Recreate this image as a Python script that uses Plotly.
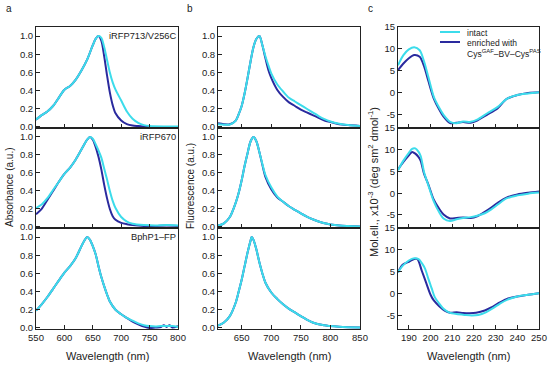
import plotly.graph_objects as go

W, H = 550, 365
CYAN = "#3CDCEB"
NAVY = "#2A2A9E"
FONT = "Arial, Liberation Sans, sans-serif"

# ---------------- data ----------------
# panel a: absorbance
A1_WL = [550, 560, 570, 580, 590, 600, 610, 620, 630, 640, 650, 655, 660, 665, 670, 675, 680, 685, 690, 700, 710, 720, 730, 740, 750, 775, 800]
A1_NAVY = [0.08, 0.13, 0.17, 0.23, 0.32, 0.41, 0.45, 0.52, 0.62, 0.74, 0.90, 0.97, 1.00, 0.95, 0.78, 0.57, 0.38, 0.24, 0.15, 0.07, 0.03, 0.015, 0.01, 0.005, 0.0, 0.0, 0.0]
A1_CYAN = [0.08, 0.13, 0.17, 0.23, 0.32, 0.41, 0.45, 0.52, 0.62, 0.74, 0.90, 0.97, 1.00, 0.98, 0.88, 0.74, 0.60, 0.49, 0.41, 0.29, 0.17, 0.09, 0.045, 0.02, 0.01, 0.005, 0.005]

A2_WL = [550, 560, 570, 580, 590, 600, 610, 620, 630, 640, 645, 650, 655, 660, 665, 670, 675, 680, 685, 690, 700, 710, 720, 740, 760, 780, 800]
A2_NAVY = [0.14, 0.20, 0.30, 0.40, 0.50, 0.59, 0.66, 0.75, 0.86, 0.97, 1.00, 0.97, 0.89, 0.78, 0.64, 0.47, 0.32, 0.20, 0.12, 0.08, 0.045, 0.03, 0.02, 0.01, 0.01, 0.015, 0.01]
A2_CYAN = [0.21, 0.25, 0.32, 0.41, 0.50, 0.59, 0.66, 0.75, 0.86, 0.97, 1.00, 0.98, 0.92, 0.85, 0.77, 0.65, 0.53, 0.40, 0.29, 0.21, 0.11, 0.06, 0.035, 0.02, 0.015, 0.02, 0.015]

A3_WL = [550, 560, 570, 580, 590, 600, 610, 620, 630, 635, 640, 645, 650, 655, 660, 665, 670, 675, 680, 690, 700, 710, 720, 730, 740, 750, 760, 770, 780, 790, 800]
A3_CYAN = [0.19, 0.26, 0.34, 0.43, 0.52, 0.61, 0.68, 0.77, 0.90, 0.96, 1.00, 0.97, 0.90, 0.81, 0.68, 0.56, 0.46, 0.37, 0.29, 0.20, 0.15, 0.11, 0.08, 0.05, 0.03, 0.02, 0.015, 0.02, 0.02, 0.02, 0.01]
A3_NAVY_WL = [550, 560, 570, 580, 590, 600, 610, 620, 630, 635, 640, 645, 650, 655, 660, 665, 670, 675, 680, 690, 700, 710, 720, 730, 740, 750, 760, 770, 775, 780, 785, 790, 800]
A3_NAVY = [0.19, 0.26, 0.34, 0.43, 0.52, 0.61, 0.68, 0.77, 0.90, 0.96, 1.00, 0.97, 0.90, 0.81, 0.68, 0.56, 0.46, 0.37, 0.29, 0.20, 0.15, 0.11, 0.07, 0.04, 0.015, 0.0, 0.005, 0.01, 0.03, 0.01, 0.03, 0.005, 0.02]

# panel b: fluorescence
B1_WL = [610, 620, 630, 640, 645, 650, 655, 660, 665, 670, 675, 680, 685, 690, 695, 700, 710, 720, 730, 740, 750, 760, 770, 780, 790, 800, 815, 830, 850]
B1_NAVY = [0.04, 0.03, 0.03, 0.07, 0.14, 0.23, 0.37, 0.54, 0.72, 0.88, 0.97, 1.00, 0.90, 0.76, 0.63, 0.54, 0.41, 0.33, 0.27, 0.23, 0.19, 0.16, 0.13, 0.10, 0.07, 0.055, 0.03, 0.02, 0.01]
B1_CYAN = [0.03, 0.025, 0.025, 0.07, 0.14, 0.23, 0.37, 0.54, 0.72, 0.88, 0.97, 1.00, 0.90, 0.78, 0.68, 0.59, 0.47, 0.39, 0.32, 0.28, 0.24, 0.20, 0.16, 0.12, 0.085, 0.06, 0.035, 0.02, 0.01]

B2_WL = [610, 620, 630, 640, 645, 650, 655, 660, 665, 670, 675, 680, 685, 690, 700, 710, 720, 730, 740, 750, 760, 770, 780, 790, 800, 815, 830, 850]
B2_NAVY = [0.015, 0.04, 0.11, 0.27, 0.38, 0.52, 0.68, 0.82, 0.95, 1.00, 0.95, 0.83, 0.69, 0.56, 0.42, 0.33, 0.28, 0.23, 0.19, 0.15, 0.115, 0.085, 0.06, 0.04, 0.027, 0.015, 0.01, 0.005]
B2_CYAN = [0.015, 0.04, 0.11, 0.27, 0.38, 0.52, 0.68, 0.82, 0.95, 1.00, 0.95, 0.83, 0.70, 0.58, 0.44, 0.34, 0.28, 0.23, 0.19, 0.15, 0.115, 0.085, 0.06, 0.04, 0.027, 0.015, 0.01, 0.005]

B3_WL = [610, 620, 630, 640, 645, 650, 655, 660, 665, 667, 670, 675, 680, 685, 690, 700, 710, 720, 730, 740, 750, 760, 770, 780, 790, 800, 815, 830, 850]
B3_NAVY = [0.025, 0.06, 0.13, 0.28, 0.40, 0.53, 0.68, 0.83, 0.96, 1.00, 0.97, 0.86, 0.72, 0.60, 0.50, 0.39, 0.32, 0.26, 0.21, 0.17, 0.13, 0.09, 0.06, 0.04, 0.03, 0.02, 0.012, 0.008, 0.005]
B3_CYAN = [0.025, 0.06, 0.13, 0.28, 0.40, 0.53, 0.68, 0.83, 0.96, 1.00, 0.97, 0.86, 0.72, 0.60, 0.50, 0.39, 0.32, 0.26, 0.21, 0.17, 0.13, 0.09, 0.06, 0.04, 0.03, 0.02, 0.012, 0.008, 0.005]

# panel c: circular dichroism
C1_WL = [185, 187.5, 190, 192.5, 195, 197, 199, 201.5, 204, 206, 209, 212, 215, 218.5, 221.5, 226, 231, 235, 240, 245, 250]
C1_NAVY = [5.2, 6.7, 7.9, 8.6, 8.2, 6.1, 2.7, -1.3, -3.8, -5.4, -6.9, -6.8, -6.65, -6.8, -6.3, -5.0, -3.5, -1.4, -0.5, 0.0, 0.15]
C1_CYAN = [6.3, 8.6, 9.9, 10.4, 9.7, 7.2, 3.6, -0.9, -3.4, -5.0, -6.6, -6.9, -6.5, -6.6, -6.1, -4.7, -3.2, -1.4, -0.5, -0.15, 0.15]

C2_WL = [185, 187.5, 190, 191.5, 193, 194.5, 195.5, 197, 199, 201.5, 204, 206, 209, 212, 215, 218.5, 221.5, 225, 228, 231, 235, 240, 245, 250]
C2_NAVY = [5.45, 7.2, 8.7, 9.5, 9.1, 8.3, 7.4, 4.5, 2.0, -1.5, -3.6, -4.9, -5.8, -5.7, -5.6, -5.7, -5.3, -4.3, -3.3, -2.2, -1.0, -0.3, 0.1, 0.4]
C2_CYAN = [5.3, 7.5, 9.3, 10.2, 10.3, 9.5, 8.5, 4.9, 1.8, -1.9, -4.4, -5.8, -6.4, -6.0, -5.7, -5.5, -5.2, -4.6, -3.7, -2.6, -1.2, -0.5, -0.1, 0.15]

C3_NAVY_WL = [185, 187, 190, 192.5, 194, 196, 198, 200, 201.5, 204, 206.5, 209, 212, 215, 218, 221, 225, 228, 231, 235, 240, 245, 250]
C3_NAVY = [4.9, 6.6, 7.3, 7.95, 7.9, 5.2, 2.5, -0.2, -1.5, -2.8, -3.8, -4.3, -4.2, -4.35, -4.4, -4.3, -3.8, -3.1, -2.2, -1.2, -0.6, -0.2, 0.15]
C3_CYAN_WL = [185, 187, 190, 192.5, 194.5, 196, 197.5, 199, 200.5, 202, 204, 206, 208.5, 212, 216, 219, 222, 225.5, 229, 232, 235.5, 240, 245, 250]
C3_CYAN = [4.9, 6.3, 7.6, 8.1, 7.9, 7.0, 5.7, 3.4, 1.3, -0.8, -2.2, -3.4, -4.2, -4.6, -4.8, -4.9, -4.8, -4.2, -3.2, -2.2, -1.3, -0.6, -0.2, 0.15]

SAMPLES = ["iRFP713/V256C", "iRFP670", "BphP1–FP"]
LEGEND_NAMES = ["intact", "enriched with<br>Cys<sup>GAF</sup>–BV–Cys<sup>PAS</sup>"]

AB_YTICKS = [0.0, 0.2, 0.4, 0.6, 0.8, 1.0]
AB_YTICKTEXT = ["0.0", "0.2", "0.4", "0.6", "0.8", "1.0"]
C_YTICKS = [-5, 0, 5, 10, 15]
C_YTICKTEXT = ["-5", "0", "5", "10", "15"]
A_XTICKS = [550, 600, 650, 700, 750, 800]
B_XTICKS = [650, 700, 750, 800, 850]
C_XTICKS = [190, 200, 210, 220, 230, 240, 250]

# ---------------- figure ----------------
series = {
    (0, 0): (A1_WL, A1_NAVY, A1_WL, A1_CYAN),
    (1, 0): (A2_WL, A2_NAVY, A2_WL, A2_CYAN),
    (2, 0): (A3_NAVY_WL, A3_NAVY, A3_WL, A3_CYAN),
    (0, 1): (B1_WL, B1_NAVY, B1_WL, B1_CYAN),
    (1, 1): (B2_WL, B2_NAVY, B2_WL, B2_CYAN),
    (2, 1): (B3_WL, B3_NAVY, B3_WL, B3_CYAN),
    (0, 2): (C1_WL, C1_NAVY, C1_WL, C1_CYAN),
    (1, 2): (C2_WL, C2_NAVY, C2_WL, C2_CYAN),
    (2, 2): (C3_NAVY_WL, C3_NAVY, C3_CYAN_WL, C3_CYAN),
}

col_px = [(36, 178), (218, 360), (398, 539)]
row_px = [(27, 128), (128, 228), (228, 329)]
xranges = [[550, 800], [610, 850], [185, 250]]
xticks = [A_XTICKS, B_XTICKS, C_XTICKS]
yranges = [[-0.012, 1.1], [-0.012, 1.1], [-8, 15]]


def idx(r, c):
    return r * 3 + c + 1


def ref(kind, i):
    return kind if i == 1 else f"{kind}{i}"


fig = go.Figure()
for (r, c), (nx, ny, cx, cy) in series.items():
    i = idx(r, c)
    fig.add_trace(go.Scatter(x=nx, y=ny, mode="lines", line=dict(color=NAVY, width=2, shape="spline", smoothing=0.8),
                             name="enriched", showlegend=False,
                             xaxis=ref("x", i), yaxis=ref("y", i), hoverinfo="skip"))
    fig.add_trace(go.Scatter(x=cx, y=cy, mode="lines", line=dict(color=CYAN, width=2, shape="spline", smoothing=0.8),
                             name="intact", showlegend=False,
                             xaxis=ref("x", i), yaxis=ref("y", i), hoverinfo="skip"))

layout = dict(
    width=W, height=H,
    margin=dict(l=0, r=0, t=0, b=0, autoexpand=False),
    paper_bgcolor="white", plot_bgcolor="white",
    font=dict(family=FONT, size=10, color="#222"),
    showlegend=False,
)

axis_common = dict(showline=True, mirror=True, linecolor="#222", linewidth=1, ticks="inside", ticklen=4,
                   tickcolor="#222", tickwidth=1, showgrid=False, zeroline=False, automargin=False,
                   tickfont=dict(size=9.5, family=FONT, color="#222"))

for r in range(3):
    for c in range(3):
        i = idx(r, c)
        x0, x1 = col_px[c]
        y0, y1 = row_px[r]
        xa = dict(axis_common, domain=[x0 / W, x1 / W], range=xranges[c], anchor=ref("y", i),
                  tickvals=xticks[c], ticktext=[str(v) for v in xticks[c]], showticklabels=(r == 2))
        if c < 2:
            ya = dict(axis_common, domain=[1 - y1 / H, 1 - y0 / H], range=yranges[c], anchor=ref("x", i),
                      tickvals=AB_YTICKS, ticktext=AB_YTICKTEXT)
        else:
            ya = dict(axis_common, domain=[1 - y1 / H, 1 - y0 / H], range=yranges[c], anchor=ref("x", i),
                      tickvals=C_YTICKS, ticktext=C_YTICKTEXT)
        layout["xaxis" if i == 1 else f"xaxis{i}"] = xa
        layout["yaxis" if i == 1 else f"yaxis{i}"] = ya

fig.update_layout(**layout)

ann = []
# sample names in panel a
for r in range(3):
    i = idx(r, 0)
    ann.append(dict(text=SAMPLES[r], x=800, y=1.0, xref=ref("x", i), yref=ref("y", i), xanchor="right",
                    yanchor="middle", xshift=0, showarrow=False, font=dict(size=9.3, family=FONT, color="#222")))
# panel letters
for lx, lt in zip([9, 190, 370], ["a", "b", "c"]):
    ann.append(dict(text=lt, x=lx / W, y=1 - 8 / H, xref="paper", yref="paper", xanchor="center",
                    yanchor="middle", showarrow=False, font=dict(size=10, family=FONT, color="#222")))
# x titles
for c in range(3):
    x0, x1 = col_px[c]
    ann.append(dict(text="Wavelength (nm)", x=(x0 + x1) / 2 / W, y=1 - 356 / H, xref="paper", yref="paper",
                    xanchor="center", yanchor="middle", showarrow=False,
                    font=dict(size=11, family=FONT, color="#222")))
# y titles
ytitles = [("Absorbance (a.u.)", 9, 187, 10), ("Fluorescence (a.u.)", 190, 186, 10),
           ("Mol.ell., x10<sup>-3</sup> (deg sm<sup>2</sup> dmol<sup>-1</sup>)", 373, 182, 11)]
for t, px, py, fs in ytitles:
    ann.append(dict(text=t, x=px / W, y=1 - py / H, xref="paper", yref="paper", xanchor="center",
                    yanchor="middle", textangle=-90, showarrow=False,
                    font=dict(size=fs, family=FONT, color="#222")))

# legend (panel c, top): swatches + labels
LEG_X0, LEG_X1, LEG_TX = 440, 460, 465
leg_rows = [(LEGEND_NAMES[0], CYAN, 32), (LEGEND_NAMES[1], NAVY, 42)]
shapes = []
for name, col, ly in leg_rows:
    shapes.append(dict(type="line", xref="paper", yref="paper", x0=LEG_X0 / W, x1=LEG_X1 / W,
                       y0=1 - ly / H, y1=1 - ly / H, line=dict(color=col, width=2)))
    ann.append(dict(text=name, x=LEG_TX / W, y=1 - (ly - 5.5) / H, xref="paper", yref="paper",
                    xanchor="left", yanchor="top", align="left", showarrow=False,
                    font=dict(size=8.5, family=FONT, color="#222")))
fig.update_layout(annotations=ann, shapes=shapes)

fig.write_html("out.html", config={"displayModeBar": False},
               post_script="document.body.style.margin='0px';document.body.style.overflow='hidden';")
